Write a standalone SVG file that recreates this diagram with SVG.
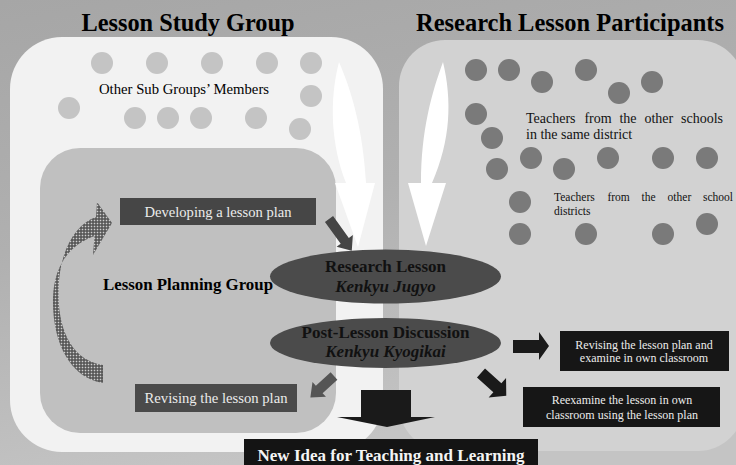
<svg xmlns="http://www.w3.org/2000/svg" width="736" height="465" viewBox="0 0 736 465">
<defs>
<linearGradient id="bg" x1="0" y1="0" x2="0.3" y2="1">
<stop offset="0" stop-color="#a6a6a6"/>
<stop offset="0.5" stop-color="#b0b0b0"/>
<stop offset="1" stop-color="#c4c4c4"/>
</linearGradient>
<pattern id="mesh" width="3" height="3" patternUnits="userSpaceOnUse">
<rect width="3" height="3" fill="#4e4e4e"/>
<rect x="0.7" y="0.7" width="1.6" height="1.6" fill="#cfcfcf"/>
</pattern>
<style>
.t{font-family:"Liberation Serif","Times New Roman",serif;}
.b{font-weight:bold;}
.bi{font-weight:bold;font-style:italic;}
.lc{fill:#c4c4c4;}
.dc{fill:#7a7a7a;}
.wt{fill:#ececec;}
</style>
</defs>
<rect width="736" height="465" fill="url(#bg)"/>

<g id="lesson-study-group">
<rect x="10" y="37" width="373" height="415" rx="52" fill="#f2f2f2"/>
<text class="t b" x="188" y="31" font-size="25" text-anchor="middle" textLength="213" lengthAdjust="spacingAndGlyphs">Lesson Study Group</text>
<g id="other-members">
<circle class="lc" cx="102" cy="63" r="11"/>
<circle class="lc" cx="157" cy="63" r="11"/>
<circle class="lc" cx="212" cy="63" r="11"/>
<circle class="lc" cx="267" cy="63" r="11"/>
<circle class="lc" cx="311" cy="63" r="11"/>
<circle class="lc" cx="69" cy="108" r="11"/>
<circle class="lc" cx="135" cy="118" r="11"/>
<circle class="lc" cx="168" cy="118" r="11"/>
<circle class="lc" cx="201" cy="118" r="11"/>
<circle class="lc" cx="256" cy="118" r="11"/>
<circle class="lc" cx="311" cy="96" r="11"/>
<circle class="lc" cx="300" cy="129" r="11"/>
<text class="t" x="184" y="94" font-size="15" text-anchor="middle" textLength="170" lengthAdjust="spacingAndGlyphs">Other Sub Groups’ Members</text>
</g>
</g>

<g id="research-lesson-participants">
<rect x="399" y="40" width="345" height="411" rx="46" fill="#d2d2d2"/>
<text class="t b" x="570" y="31" font-size="25" text-anchor="middle" textLength="308" lengthAdjust="spacingAndGlyphs">Research Lesson Participants</text>
<g id="participants">
<circle class="dc" cx="476" cy="70" r="11"/>
<circle class="dc" cx="509" cy="70" r="11"/>
<circle class="dc" cx="542" cy="82" r="11"/>
<circle class="dc" cx="586" cy="70" r="11"/>
<circle class="dc" cx="619" cy="93" r="11"/>
<circle class="dc" cx="652" cy="82" r="11"/>
<circle class="dc" cx="476" cy="114" r="11"/>
<circle class="dc" cx="492" cy="138" r="11"/>
<circle class="dc" cx="497" cy="169" r="11"/>
<circle class="dc" cx="531" cy="158" r="11"/>
<circle class="dc" cx="564" cy="169" r="11"/>
<circle class="dc" cx="608" cy="158" r="11"/>
<circle class="dc" cx="663" cy="158" r="11"/>
<circle class="dc" cx="707" cy="158" r="11"/>
<circle class="dc" cx="520" cy="202" r="11"/>
<circle class="dc" cx="520" cy="234" r="11"/>
<circle class="dc" cx="586" cy="234" r="11"/>
<circle class="dc" cx="663" cy="234" r="11"/>
<circle class="dc" cx="707" cy="224" r="11"/>
</g>
<text class="t" font-size="14" fill="#111"><tspan x="526" y="123">Teachers</tspan><tspan x="584.4" y="123">from</tspan><tspan x="619.4" y="123">the</tspan><tspan x="644.4" y="123">other</tspan><tspan x="681" y="123">schools</tspan><tspan x="526" y="138.5">in the same district</tspan></text>
<text class="t" font-size="11.5" fill="#111"><tspan x="554" y="200.5">Teachers</tspan><tspan x="607.4" y="200.5">from</tspan><tspan x="641.6" y="200.5">the</tspan><tspan x="667.6" y="200.5">other</tspan><tspan x="703" y="200.5">school</tspan><tspan x="554" y="215">districts</tspan></text>
</g>

<g id="lesson-planning-group">
<rect x="40" y="148" width="296" height="285" rx="40" fill="#c0c0c0"/>
<text class="t b" x="103" y="290" font-size="17" textLength="170" lengthAdjust="spacingAndGlyphs">Lesson Planning Group</text>
</g>

<g id="developing">
<rect x="120" y="198" width="196" height="27" fill="#464646"/>
<text class="t wt" x="218" y="217" font-size="14.5" text-anchor="middle" textLength="147" lengthAdjust="spacingAndGlyphs">Developing a lesson plan</text>
</g>

<g id="revising">
<rect x="135" y="384" width="162" height="28" fill="#4a4a4a"/>
<text class="t wt" x="216" y="403" font-size="14.5" text-anchor="middle" textLength="143" lengthAdjust="spacingAndGlyphs">Revising the lesson plan</text>
</g>

<g id="connectors">
<path d="M103,383 C70,378 52,342 53,298 C54,268 67,246 94.5,236 L93,255 L112,223 L97,202 L96,217 C74,225 59,252 58.5,292 C58,333 74,361 103,365 Z" fill="url(#mesh)"/>
<path d="M339,62 C329,100 331,145 346,183 L335,183 L358,247 L375,183 L366,183 C363,130 352,92 339,62 Z" fill="#ffffff"/>
<path d="M443,62 C452,100 451,140 432,183 L446,183 L426,246 L408,183 L421,183 C421,130 432,92 443,62 Z" fill="#ffffff"/>
<g transform="translate(329,219) rotate(54.3)">
<polygon points="0,-5 27,-5 27,-10 39,0 27,10 27,5 0,5" fill="#454545"/>
</g>
<g transform="translate(334,376) rotate(137.6)">
<polygon points="0,-5 20,-5 20,-10 32,0 20,10 20,5 0,5" fill="#555555"/>
</g>
<polygon points="513,340 539,340 539,332 549,346 539,360 539,353 513,353" fill="#1a1a1a"/>
<g transform="translate(481,373) rotate(42)">
<polygon points="0,-6 22,-6 22,-13 34,0 22,13 22,6 0,6" fill="#1a1a1a"/>
</g>
<polygon points="361,390 411,390 411,417 435,417 387,427 337,417 361,417" fill="#1a1a1a"/>
</g>

<g id="research-lesson">
<ellipse cx="385.5" cy="276.5" rx="115.5" ry="27" fill="#4b4b4b"/>
<text class="t b" x="385.5" y="272" font-size="17" text-anchor="middle" fill="#111">Research Lesson</text>
<text class="t bi" x="385.5" y="292" font-size="17" text-anchor="middle" fill="#111">Kenkyu Jugyo</text>
</g>

<g id="post-lesson">
<ellipse cx="385.5" cy="343" rx="115.5" ry="25" fill="#4b4b4b"/>
<text class="t b" x="385.5" y="337.5" font-size="17" text-anchor="middle" fill="#111" textLength="168" lengthAdjust="spacingAndGlyphs">Post-Lesson Discussion</text>
<text class="t bi" x="385.5" y="357" font-size="17" text-anchor="middle" fill="#111">Kenkyu Kyogikai</text>
</g>

<g id="revise-examine">
<rect x="560" y="331" width="169" height="40" fill="#161616"/>
<text class="t wt" x="644" y="348.5" font-size="12" text-anchor="middle">Revising the lesson plan and</text>
<text class="t wt" x="644" y="362" font-size="12" text-anchor="middle">examine in own classroom</text>
</g>

<g id="reexamine">
<rect x="523" y="387" width="197" height="40" fill="#161616"/>
<text class="t wt" x="622" y="404" font-size="12" text-anchor="middle">Reexamine the lesson in own</text>
<text class="t wt" x="622" y="418.5" font-size="12" text-anchor="middle">classroom using the lesson plan</text>
</g>

<g id="new-idea">
<rect x="244" y="439" width="294" height="30" fill="#141414"/>
<text class="t b" x="391" y="461" font-size="17" text-anchor="middle" fill="#f4f4f4" textLength="267" lengthAdjust="spacingAndGlyphs">New Idea for Teaching and Learning</text>
</g>
</svg>
